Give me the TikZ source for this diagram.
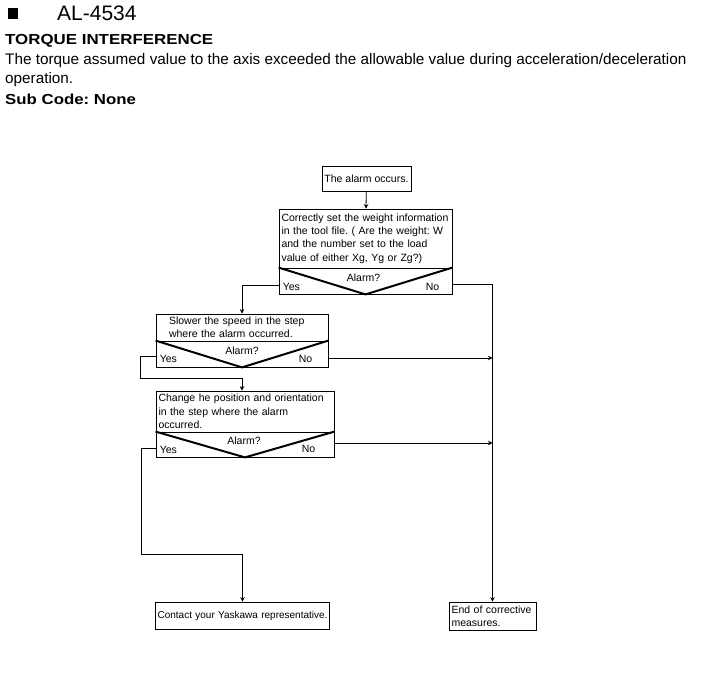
\documentclass[tikz,border=0pt]{standalone}
\usepackage{fontspec}
\setmainfont{Liberation Sans}
\usetikzlibrary{arrows.meta,calc}
\frenchspacing

\tikzset{
    box/.style={draw, line width=0.8pt, rectangle, inner sep=2pt,
        font=\fontsize{10.5}{13.3}\selectfont},
    ask/.style={draw, line width=0.8pt, rectangle, inner sep=0pt},
    vee/.style={line width=2pt},
    lbl/.style={inner sep=0pt, font=\fontsize{10.5}{12}\selectfont},
    flow/.style={line width=0.8pt, -{Stealth[length=4.5pt,width=4.5pt]}},
    link/.style={line width=0.8pt},
    head/.style={anchor=base west, inner sep=0pt},
}

\begin{document}
\begin{tikzpicture}[x=1pt,y=-1pt]

    \useasboundingbox (0,0) rectangle (715,682);

% Cabecera
    \fill (8,8) rectangle (18,19);
    \node[head, font=\fontsize{21}{21}\selectfont] (code) at (57,21) {AL-4534};
    \node[head, font=\fontsize{14.5}{17}\selectfont\bfseries] (title) at (5,45)
        {\scalebox{1.165}[1]{TORQUE INTERFERENCE}};
    \node[head, font=\fontsize{15.3}{19}\selectfont] (desc1) at (5,65)
        {The torque assumed value to the axis exceeded the allowable value during acceleration/deceleration};
    \node[head, font=\fontsize{15.3}{19}\selectfont] (desc2) at (5,84) {operation.};
    \node[head, font=\fontsize{14.5}{17}\selectfont\bfseries] (sub) at (5,105)
        {\scalebox{1.16}[1]{Sub Code: None}};

% Cajas
    \node[box, minimum width=89pt, minimum height=25pt] (start) at (366.5,178.5) {The alarm occurs.};

    \node[box, minimum width=173pt, minimum height=59pt, text width=168pt, align=left]
        (chk) at (365.5,238.5)
        {Correctly set the weight information\\in the tool file. ( Are the weight: W\\
         and the number set to the load\\value of either Xg, Yg or Zg?)};
    \node[ask, minimum width=173pt, minimum height=26pt] (dec1) at (365.5,281) {};

    \node[box, minimum width=172pt, minimum height=27pt, text width=146pt, align=left]
        (spd) at (242,327.5)
        {Slower the speed in the step\\where the alarm occurred.};
    \node[ask, minimum width=172pt, minimum height=26pt] (dec2) at (242,354) {};

    \node[box, minimum width=178pt, minimum height=41pt, text width=173pt, align=left]
        (pos) at (245,411.5)
        {Change he position and orientation\\in the step where the alarm\\occurred.};
    \node[ask, minimum width=178pt, minimum height=25pt] (dec3) at (245,444.5) {};

    \node[box, minimum width=173pt, minimum height=27pt, text width=170pt, align=right,
        font=\fontsize{10}{12}\selectfont]
        (cont) at (242.5,615.5) {Contact your Yaskawa representative.};
    \node[box, minimum width=87pt, minimum height=28pt, text width=82pt, align=left]
        (fin) at (492.5,616) {End of corrective\\measures.};

% Decisiones
    \foreach \d in {dec1, dec2, dec3}
        \draw[vee] (\d.north west) -- (\d.south) -- (\d.north east);

    \node[lbl] (ask1) at ($(dec1.center)+(-2,-3)$) {Alarm?};
    \node[lbl, anchor=base west] (yes1) at ($(dec1.south west)+(4,-4)$) {Yes};
    \node[lbl, anchor=base east] (no1) at ($(dec1.south east)+(-13,-4)$) {No};

    \node[lbl] (ask2) at ($(dec2.center)+(0,-3)$) {Alarm?};
    \node[lbl, anchor=base west] (yes2) at ($(dec2.south west)+(4,-5)$) {Yes};
    \node[lbl, anchor=base east] (no2) at ($(dec2.south east)+(-16,-5)$) {No};

    \node[lbl] (ask3) at ($(dec3.center)+(-1,-3.5)$) {Alarm?};
    \node[lbl, anchor=base west] (yes3) at ($(dec3.south west)+(4,-4)$) {Yes};
    \node[lbl, anchor=base east] (no3) at ($(dec3.south east)+(-19,-5)$) {No};

% Flechas
    \draw[flow] (start) -- (chk);

    \draw[flow] ($(dec1.west)+(0,4)$) -| (spd.north);
    \draw[flow] ($(dec1.east)+(0,3)$) -| (fin.north);

    \coordinate (j2) at ($(dec2.south)+(0,11)$);
    \draw[flow] ($(dec2.west)+(0,2)$) -- ++(-15,0) |- (j2) -- (j2 |- pos.north);
    \coordinate (n2) at ($(dec2.east)+(0,4)$);
    \draw[flow] (n2) -- (n2 -| fin.north);

    \coordinate (j3) at ($(cont.north)+(0,-47)$);
    \draw[flow] ($(dec3.west)+(0,3.5)$) -- ++(-14,0) |- (j3) -- (cont.north);
    \coordinate (n3) at ($(dec3.east)+(0,-1.5)$);
    \draw[flow] (n3) -- (n3 -| fin.north);

\end{tikzpicture}
\end{document}
